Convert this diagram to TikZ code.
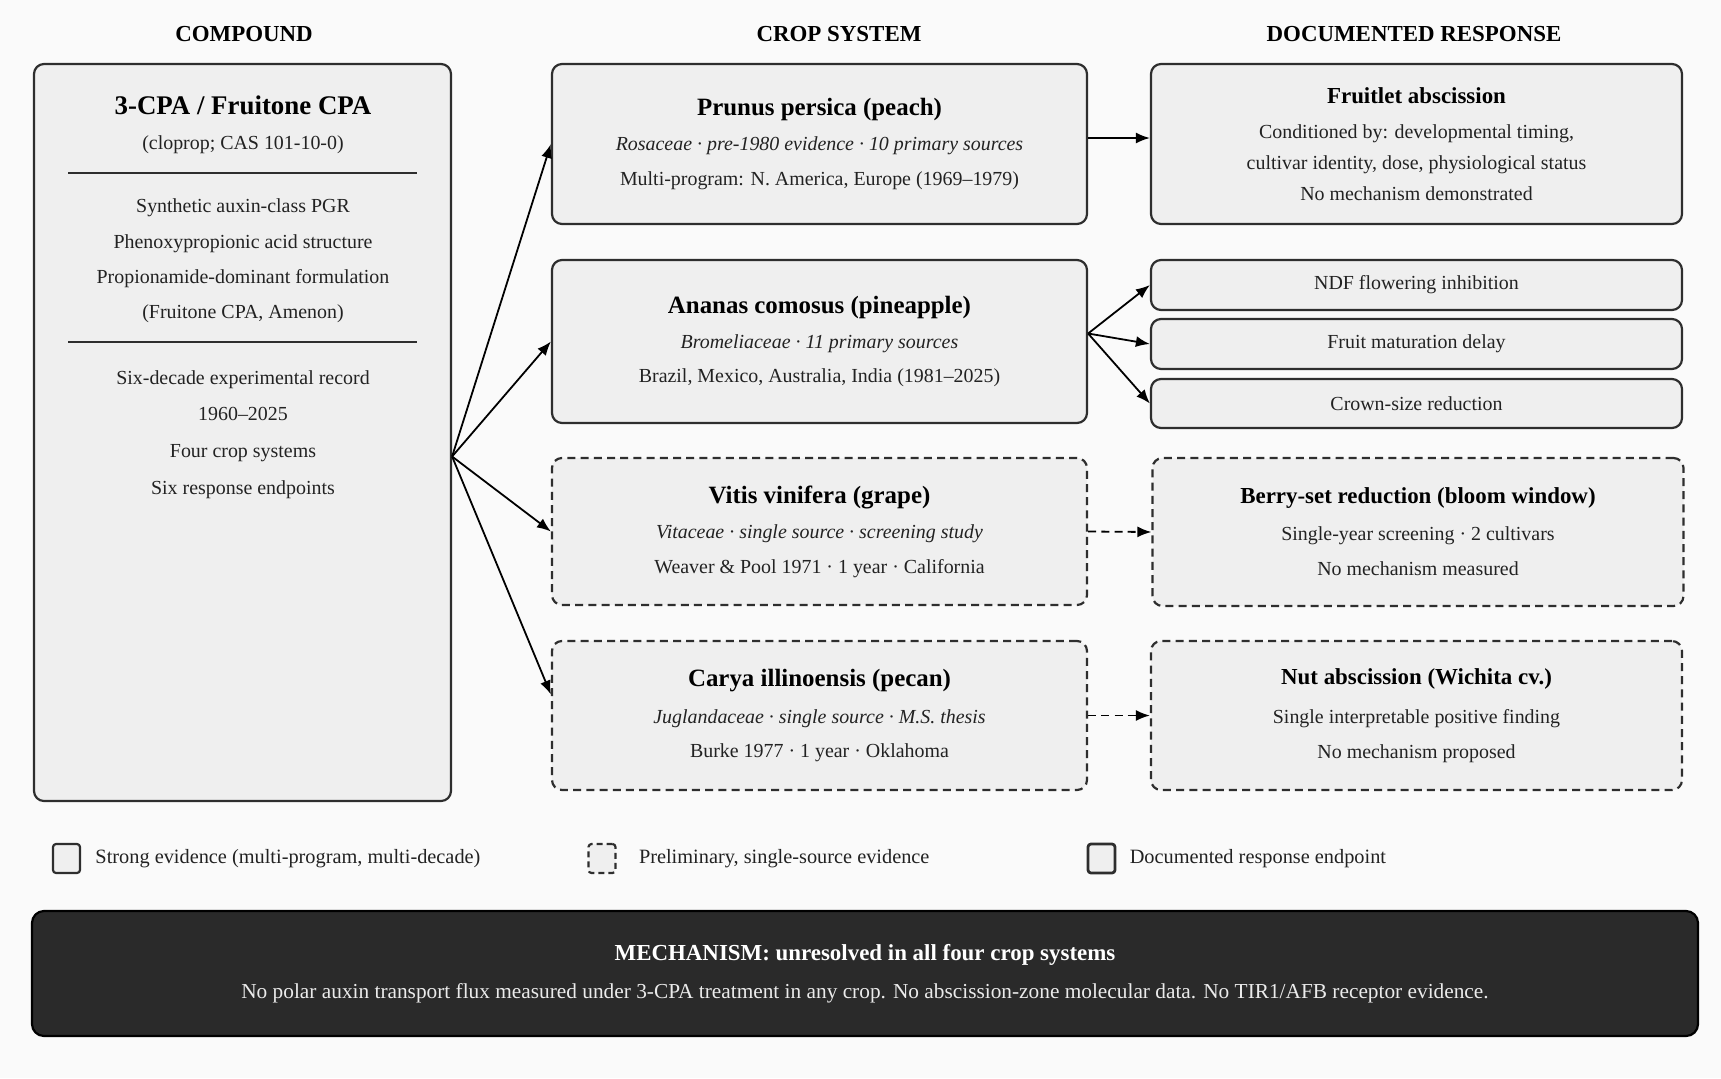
\documentclass[tikz,border=0pt]{standalone}
\usepackage{fontspec}
\setmainfont{Liberation Serif}
\usetikzlibrary{positioning,arrows.meta}
\definecolor{pagebg}{HTML}{FAFAFA}
\definecolor{boxfill}{HTML}{EFEFEF}
\definecolor{boxline}{HTML}{2E2E2E}
\definecolor{mechfill}{HTML}{2A2A2A}
\definecolor{txt}{HTML}{222222}
\newcommand\cmpdhead[1]{{\fontsize{13.5}{16}\selectfont\bfseries\color{black}#1}}
\newcommand\crophead[1]{{\fontsize{12.5}{15}\selectfont\bfseries\color{black}#1}}
\newcommand\resphead[1]{{\fontsize{11.5}{14}\selectfont\bfseries\color{black}#1}}
\begin{document}
\begin{tikzpicture}[>={Latex[length=7bp,width=5.5bp]},line join=round,x=0.5bp,y=-0.5bp,
  hdr/.style={font=\fontsize{11.5}{14}\selectfont\bfseries},
  strongbox/.style={draw=boxline,fill=boxfill,line width=1.1pt,rounded corners=5bp,align=center,inner sep=0pt,text=txt,font=\fontsize{10}{17.5}\selectfont},
  prelimbox/.style={strongbox,dash pattern=on 4bp off 2.6bp},
  cropsize/.style={minimum width=267.5bp,minimum height=#1},
  respsize/.style={minimum width=265.5bp,minimum height=#1},
  cmpdtext/.style={align=center,inner sep=0pt,text=txt,font=\fontsize{10}{17.75}\selectfont},
  rule/.style={line width=0.7pt,draw=boxline},
  edge/.style={->,line width=0.9pt,draw=black},
  dashedge/.style={edge,dash pattern=on 4bp off 2.6bp},
  legbox/.style={strongbox,minimum width=13.5bp,minimum height=14.5bp,rounded corners=1.5bp},
  legtext/.style={inner sep=0pt,text=txt,font=\fontsize{10.2}{12}\selectfont},
  mechbox/.style={draw=black,fill=mechfill,line width=1.1pt,rounded corners=6bp,align=center,inner sep=0pt,text=white,minimum width=833bp,minimum height=62.5bp,font=\fontsize{10.7}{19}\selectfont}]
\useasboundingbox (0,0) rectangle (1721,1078);
\fill[pagebg] (0,0) rectangle (1721,1078);
%% column headers
\node[hdr] (hcmpd) at (244,34) {COMPOUND};
\node[hdr] (hcrop) at (839,34) {CROP SYSTEM};
\node[hdr] (hresp) at (1414,34) {DOCUMENTED RESPONSE};
%% Node: Compound
\node[strongbox,minimum width=208.5bp,minimum height=368.5bp] (compound) at (242.5,432.5) {};
\node[cmpdtext] (cmpdname) at (243,125) {\cmpdhead{3-CPA / Fruitone CPA}\\(cloprop; CAS 101-10-0)};
\draw[rule] (68,173) -- (417,173);
\node[cmpdtext] (cmpdclass) at (243,261) {Synthetic auxin-class PGR\\Phenoxypropionic acid structure\\Propionamide-dominant formulation\\(Fruitone CPA, Amenon)};
\draw[rule] (68,342) -- (417,342);
\node[cmpdtext,font=\fontsize{10}{18.5}\selectfont] (cmpdrecord) at (243,434.5) {Six-decade experimental record\\1960--2025\\Four crop systems\\Six response endpoints};
%% Node: Peach
\node[strongbox,cropsize=80bp] (peach) at (819.5,144) {\crophead{Prunus persica (peach)}\\\textit{Rosaceae · pre-1980 evidence · 10 primary sources}\\Multi-program: N. America, Europe (1969--1979)};
%% Node: Pineapple
\node[strongbox,cropsize=81.5bp] (pineapple) at (819.5,341.5) {\crophead{Ananas comosus (pineapple)}\\\textit{Bromeliaceae · 11 primary sources}\\Brazil, Mexico, Australia, India (1981--2025)};
%% Node: Grape
\node[prelimbox,cropsize=73.5bp] (grape) at (819.5,531.5) {\crophead{Vitis vinifera (grape)}\\\textit{Vitaceae · single source · screening study}\\Weaver \& Pool 1971 · 1 year · California};
%% Node: Pecan
\node[prelimbox,cropsize=74.5bp] (pecan) at (819.5,715.5) {\crophead{Carya illinoensis (pecan)}\\[1bp]\textit{Juglandaceae · single source · M.S. thesis}\\Burke 1977 · 1 year · Oklahoma};
%% Node: Fruitlet
\node[strongbox,respsize=80bp,font=\fontsize{10}{15.5}\selectfont] (fruitlet) at (1416.5,144) {\resphead{Fruitlet abscission}\\[2.5bp]Conditioned by: developmental timing,\\cultivar identity, dose, physiological status\\No mechanism demonstrated};
%% Node: NDF
\node[strongbox,respsize=25bp] (ndf) at (1416.5,285) {NDF flowering inhibition};
%% Node: Maturation
\node[strongbox,respsize=25bp] (maturation) at (1416.5,344) {Fruit maturation delay};
%% Node: Crown
\node[strongbox,respsize=24.5bp] (crown) at (1416.5,403.5) {Crown-size reduction};
%% Node: Berry
\node[prelimbox,respsize=74bp] (berry) at (1418,532) {\resphead{Berry-set reduction (bloom window)}\\[1bp]Single-year screening · 2 cultivars\\No mechanism measured};
%% Node: Nut
\node[prelimbox,respsize=74.5bp] (nut) at (1416.5,715.5) {\resphead{Nut abscission (Wichita cv.)}\\[2bp]Single interpretable positive finding\\No mechanism proposed};
%% Edge: Compound -> crop systems
\coordinate (fan) at ([yshift=-12bp]compound.east);
\draw[edge] (fan) -- (peach.west);
\draw[edge] (fan) -- (pineapple.west);
\draw[edge] (fan) -- (grape.west);
\draw[edge] (fan) -- ([yshift=10.5bp]pecan.west);
%% Edge: Peach -> Fruitlet
\draw[edge] ([yshift=3bp]peach.east) -- ([yshift=3bp]fruitlet.west);
%% Edge: Pineapple -> NDF, Maturation, Crown
\coordinate (pinefan) at ([yshift=4bp]pineapple.east);
\draw[edge] (pinefan) -- (ndf.west);
\draw[edge] (pinefan) -- (maturation.west);
\draw[edge] (pinefan) -- (crown.west);
%% Edge: Grape -> Berry
\draw[dashedge] (grape.east) -- (berry.west);
%% Edge: Pecan -> Nut
\draw[dashedge] (pecan.east) -- (nut.west);
%% legend
\node[legbox] (legstrong) at (66.5,858.5) {};
\node[legtext,right=7bp of legstrong] (legstrongt) {Strong evidence (multi-program, multi-decade)};
\node[legbox,dash pattern=on 3bp off 2bp] (legprelim) at (602,858.5) {};
\node[legtext,right=11bp of legprelim] (legprelimt) {Preliminary, single-source evidence};
\node[legbox,line width=1.4pt] (legresp) at (1101.5,858.5) {};
\node[legtext,right=6.5bp of legresp] (legrespt) {Documented response endpoint};
%% Node: Mechanism
\node[mechbox] (mech) at (865,973.5) {{\fontsize{11.5}{14}\selectfont\bfseries MECHANISM: unresolved in all four crop systems}\\\color{black!8}No polar auxin transport flux measured under 3-CPA treatment in any crop. No abscission-zone molecular data. No TIR1/AFB receptor evidence.};
%
\end{tikzpicture}
\end{document}
